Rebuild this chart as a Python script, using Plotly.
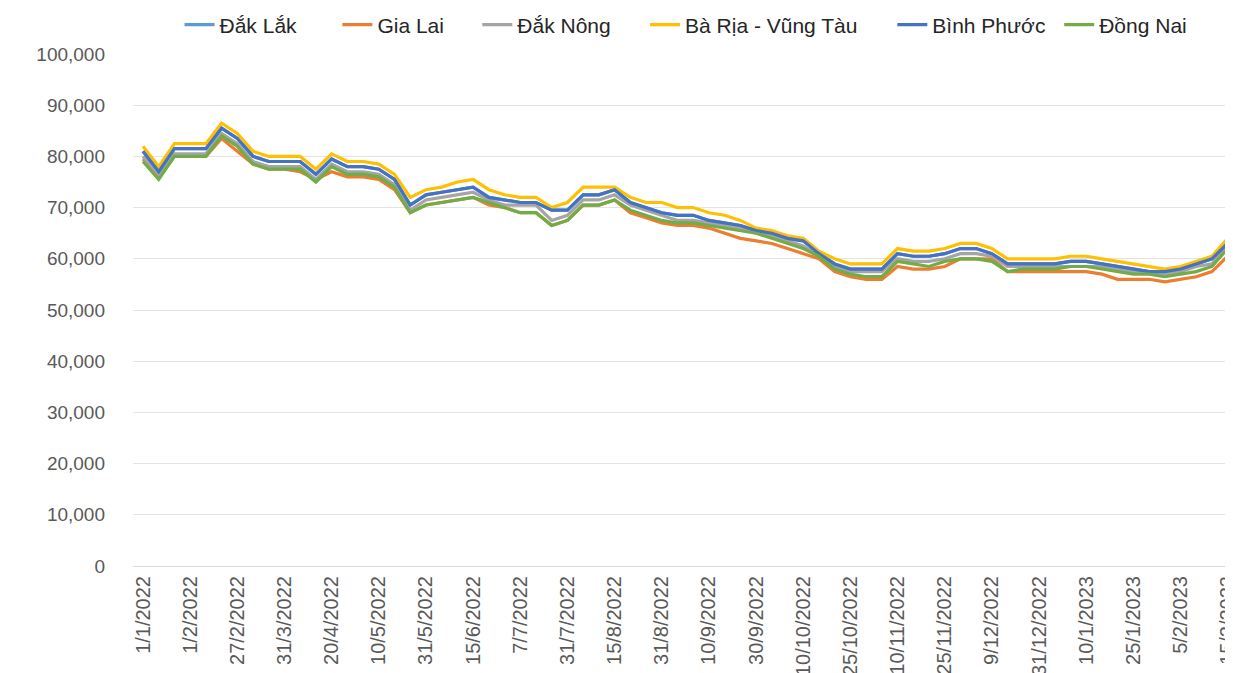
import plotly.graph_objects as go

dates = [
    "1/1/2022", "10/1/2022", "20/1/2022",
    "1/2/2022", "10/2/2022", "20/2/2022",
    "27/2/2022", "10/3/2022", "20/3/2022",
    "31/3/2022", "7/4/2022", "14/4/2022",
    "20/4/2022", "27/4/2022", "4/5/2022",
    "10/5/2022", "17/5/2022", "24/5/2022",
    "31/5/2022", "5/6/2022", "10/6/2022",
    "15/6/2022", "22/6/2022", "30/6/2022",
    "7/7/2022", "15/7/2022", "23/7/2022",
    "31/7/2022", "5/8/2022", "10/8/2022",
    "15/8/2022", "20/8/2022", "25/8/2022",
    "31/8/2022", "3/9/2022", "7/9/2022",
    "10/9/2022", "17/9/2022", "24/9/2022",
    "30/9/2022", "3/10/2022", "7/10/2022",
    "10/10/2022", "15/10/2022", "20/10/2022",
    "25/10/2022", "31/10/2022", "5/11/2022",
    "10/11/2022", "15/11/2022", "20/11/2022",
    "25/11/2022", "30/11/2022", "5/12/2022",
    "9/12/2022", "16/12/2022", "23/12/2022",
    "31/12/2022", "3/1/2023", "7/1/2023",
    "10/1/2023", "15/1/2023", "20/1/2023",
    "25/1/2023", "30/1/2023", "2/2/2023",
    "5/2/2023", "8/2/2023", "12/2/2023",
    "15/2/2023",
]

binh_phuoc = [81000, 77000, 81500, 81500, 81500, 85500, 83500, 80000, 79000, 79000,
              79000, 76500, 79500, 78000, 78000, 77500, 75500, 70500, 72500, 73000,
              73500, 74000, 72000, 71500, 71000, 71000, 69500, 69500, 72500, 72500,
              73500, 71000, 70000, 69000, 68500, 68500, 67500, 67000, 66500, 65500,
              65000, 64000, 63500, 61000, 59000, 58000, 58000, 58000, 61000, 60500,
              60500, 61000, 62000, 62000, 61000, 59000, 59000, 59000, 59000, 59500,
              59500, 59000, 58500, 58000, 57500, 57500, 58000, 59000, 60000, 63000]

dak_lak = [81000, 77000, 81500, 81500, 81500, 85500, 83500, 80000, 79000, 79000,
           79000, 76500, 79500, 78000, 78000, 77500, 75500, 70500, 72500, 73000,
           73500, 74000, 72000, 71500, 71000, 71000, 69500, 69500, 72500, 72500,
           73500, 71000, 70000, 69000, 68500, 68500, 67500, 67000, 66500, 65500,
           65000, 64000, 63500, 61000, 59000, 58000, 58000, 58000, 61000, 60500,
           60500, 61000, 62000, 62000, 61000, 59000, 59000, 59000, 59000, 59500,
           59500, 59000, 58500, 58000, 57500, 57500, 58000, 59000, 60000, 63000]

ba_ria = [82000, 78000, 82500, 82500, 82500, 86500, 84500, 81000, 80000, 80000,
          80000, 77500, 80500, 79000, 79000, 78500, 76500, 72000, 73500, 74000,
          75000, 75500, 73500, 72500, 72000, 72000, 70000, 71000, 74000, 74000,
          74000, 72000, 71000, 71000, 70000, 70000, 69000, 68500, 67500, 66000,
          65500, 64500, 64000, 61500, 60000, 59000, 59000, 59000, 62000, 61500,
          61500, 62000, 63000, 63000, 62000, 60000, 60000, 60000, 60000, 60500,
          60500, 60000, 59500, 59000, 58500, 58000, 58500, 59500, 60500, 64000]

dong_nai = [79000, 75500, 80000, 80000, 80000, 84000, 82000, 78500, 77500, 77500,
            77500, 75000, 78000, 76500, 76500, 76000, 74000, 69000, 70500, 71000,
            71500, 72000, 71000, 70000, 69000, 69000, 66500, 67500, 70500, 70500,
            71500, 69500, 68500, 67500, 67000, 67000, 66500, 66000, 65500, 65000,
            64000, 63000, 62000, 60500, 58000, 57000, 56500, 56500, 59500, 59000,
            58500, 59500, 60000, 60000, 59500, 57500, 58000, 58000, 58000, 58500,
            58500, 58000, 57500, 57000, 57000, 56500, 57000, 57500, 58500, 62000]

gia_lai = [79500, 76000, 80000, 80000, 80000, 83500, 81000, 78500, 77500, 77500,
           77000, 75500, 77000, 76000, 76000, 75500, 73500, 69000, 70500, 71000,
           71500, 72000, 70500, 70000, 69000, 69000, 66500, 67500, 70500, 70500,
           71500, 69000, 68000, 67000, 66500, 66500, 66000, 65000, 64000, 63500,
           63000, 62000, 61000, 60000, 57500, 56500, 56000, 56000, 58500, 58000,
           58000, 58500, 60000, 60000, 60000, 57500, 57500, 57500, 57500, 57500,
           57500, 57000, 56000, 56000, 56000, 55500, 56000, 56500, 57500, 60500]

dak_nong = [80000, 76500, 80500, 80500, 80500, 84500, 82500, 79000, 78000, 78000,
            78000, 75500, 78500, 77000, 77000, 76500, 74500, 69500, 71500, 72000,
            72500, 73000, 71500, 70500, 70500, 70500, 67500, 68500, 71500, 71500,
            72500, 70500, 69500, 68500, 67500, 67500, 67000, 66500, 66000, 65000,
            64500, 63500, 62500, 60500, 58500, 57500, 57500, 57500, 60000, 59500,
            59500, 60000, 61000, 61000, 60500, 58500, 58500, 58500, 58500, 58500,
            58500, 58500, 58000, 57500, 57500, 57000, 57500, 58500, 59000, 62500]

series = [
    ("Đắk Lắk", dak_lak, "#5B9BD5"),
    ("Gia Lai", gia_lai, "#ED7D31"),
    ("Đắk Nông", dak_nong, "#A5A5A5"),
    ("Bà Rịa - Vũng Tàu", ba_ria, "#FFC000"),
    ("Bình Phước", binh_phuoc, "#4472C4"),
    ("Đồng Nai", dong_nai, "#70AD47"),
]

y_ticks = [0, 10000, 20000, 30000, 40000, 50000, 60000, 70000, 80000, 90000, 100000]

# left edge (paper fraction) of each legend entry, one legend box per series
legend_x = [0.0423, 0.1858, 0.3130, 0.4655, 0.6903, 0.8420]

fig = go.Figure()
legend_layout = {}
for k, (name, vals, color) in enumerate(series):
    lname = "legend" if k == 0 else f"legend{k + 1}"
    fig.add_trace(go.Scatter(x=dates, y=vals, mode="lines", name=name,
                             legend=lname,
                             line=dict(color=color, width=3.2)))
    legend_layout[lname] = dict(
        orientation="h", x=legend_x[k], xanchor="left",
        y=1.0566, yanchor="middle",
        font=dict(size=21, color="#262626"),
        bgcolor="rgba(0,0,0,0)",
    )

font_family = "Liberation Sans, Arial, sans-serif"
# the page body adds an 8px offset, so the figure is 8px smaller than the window
fig.update_layout(
    width=1225, height=665,
    margin=dict(l=125, r=0, t=46, b=107, autoexpand=False),
    paper_bgcolor="white", plot_bgcolor="white",
    font=dict(family=font_family, color="#404040"),
    showlegend=True,
    xaxis=dict(
        type="category",
        range=[-0.636, 69.34],
        tickmode="array",
        tickvals=dates[::3],
        ticktext=dates[::3],
        tickangle=-90,
        tickfont=dict(size=20, color="#595959"),
        ticklabelstandoff=1,
        ticklabeloverflow="allow",
        showgrid=False,
        showline=True, linecolor="#D9D9D9", linewidth=1,
        ticks="",
        zeroline=False,
        automargin=False,
    ),
    yaxis=dict(
        range=[0, 100000],
        tickmode="array",
        tickvals=y_ticks,
        ticktext=[f"{v:,}" for v in y_ticks],
        tickfont=dict(size=19, color="#595959"),
        showgrid=True, gridcolor="#E3E3E3", gridwidth=1,
        zeroline=False,
        ticklabelstandoff=27,
        fixedrange=True,
        automargin=False,
    ),
    **legend_layout,
)

fig.write_html("out.html")
